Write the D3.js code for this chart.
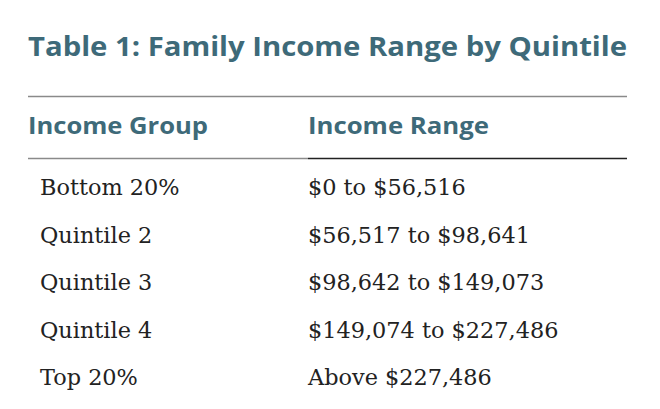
<!DOCTYPE html>
<html><head><meta charset="utf-8">
<script src="https://cdn.jsdelivr.net/npm/d3@7"></script>
<style>body{margin:0;background:#fff}</style></head>
<body><svg id="c" width="660" height="409"></svg>
<script>
const title = "Table 1: Family Income Range by Quintile";
const headers = ["Income Group", "Income Range"];
const groups = ["Bottom 20%", "Quintile 2", "Quintile 3", "Quintile 4", "Top 20%"];
const ranges = ["$0 to $56,516", "$56,517 to $98,641", "$98,642 to $149,073", "$149,074 to $227,486", "Above $227,486"];

const svg = d3.select("#c");
const teal = "#3e6a79";
const col = d3.scaleOrdinal().domain([0,1]).range([28,308]);
const y = d3.scalePoint().domain(groups).range([195,385]);

svg.append("text").attr("x",28).attr("y",56).text(title)
  .attr("font-family","Open Sans").attr("font-weight",700).attr("font-size",26)
  .attr("fill",teal).attr("textLength",599).attr("lengthAdjust","spacingAndGlyphs");
svg.append("line").attr("x1",28).attr("x2",627).attr("y1",96.5).attr("y2",96.5).attr("stroke","#8a8a8a").attr("stroke-width",1.5);
svg.selectAll("text.h").data(headers).join("text").attr("class","h")
  .attr("x",(d,i)=>col(i)).attr("y",134).text(d=>d)
  .attr("font-family","Open Sans").attr("font-weight",700).attr("font-size",24)
  .attr("fill",teal).attr("textLength",(d,i)=>i?181:180).attr("lengthAdjust","spacingAndGlyphs");
svg.append("line").attr("x1",28).attr("x2",308).attr("y1",158.5).attr("y2",158.5).attr("stroke","#8a8a8a").attr("stroke-width",1.5);
svg.append("line").attr("x1",308).attr("x2",627).attr("y1",158.5).attr("y2",158.5).attr("stroke","#222").attr("stroke-width",1.5);
const f = s=>s.attr("font-family","DejaVu Serif").attr("font-size",22.4).attr("fill","#222");
svg.selectAll("text.g").data(groups).join("text").attr("class","g")
  .attr("x",40).attr("y",d=>y(d)).text(d=>d).call(f);
svg.selectAll("text.r").data(ranges).join("text").attr("class","r")
  .attr("x",308).attr("y",(d,i)=>y(groups[i])).text(d=>d).call(f);
</script></body></html>
